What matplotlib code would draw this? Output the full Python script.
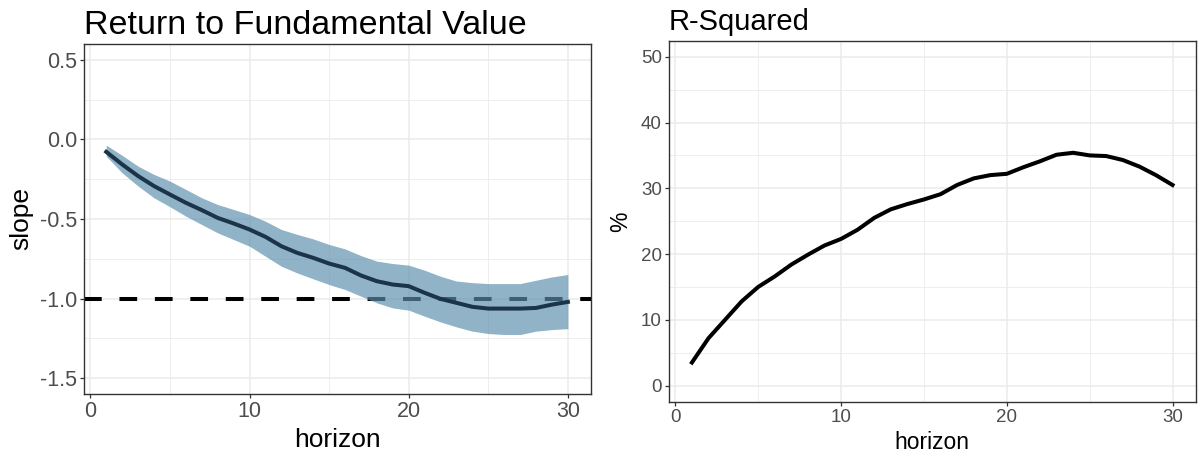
import numpy as np
import matplotlib.pyplot as plt
from matplotlib.ticker import MultipleLocator

plt.rcParams["font.family"] = ["Liberation Sans", "DejaVu Sans"]

# ==================================================
# Data
# ==================================================
horizon = list(range(1, 31))

slope = [-0.078, -0.157, -0.230, -0.293, -0.346, -0.398, -0.444, -0.493, -0.528, -0.566,
         -0.612, -0.671, -0.713, -0.744, -0.780, -0.807, -0.855, -0.891, -0.912, -0.922,
         -0.964, -1.002, -1.027, -1.052, -1.063, -1.063, -1.063, -1.059, -1.038, -1.021]

slope_upper = [-0.036, -0.100, -0.168, -0.220, -0.262, -0.314, -0.367, -0.409, -0.440, -0.472,
               -0.514, -0.566, -0.597, -0.625, -0.660, -0.688, -0.730, -0.765, -0.780, -0.790,
               -0.822, -0.860, -0.890, -0.900, -0.906, -0.906, -0.906, -0.885, -0.864, -0.849]

slope_lower = [-0.105, -0.210, -0.293, -0.367, -0.423, -0.482, -0.535, -0.587, -0.629, -0.671,
               -0.734, -0.797, -0.839, -0.876, -0.912, -0.943, -0.985, -1.027, -1.059, -1.073,
               -1.111, -1.147, -1.178, -1.205, -1.220, -1.226, -1.226, -1.205, -1.195, -1.189]

r_squared = [3.5, 7.2, 10.0, 12.8, 15.0, 16.6, 18.4, 19.9, 21.3, 22.3,
             23.7, 25.5, 26.8, 27.6, 28.3, 29.1, 30.5, 31.5, 32.0, 32.2,
             33.2, 34.1, 35.1, 35.4, 35.0, 34.9, 34.3, 33.3, 32.0, 30.5]

reference_slope = -1.0

GRID = "#EBEBEB"
BORDER = "#333333"
TICK_TXT = "#4D4D4D"


def style_axes(ax, tick_size):
    ax.set_facecolor("white")
    for sp in ax.spines.values():
        sp.set_color(BORDER)
        sp.set_linewidth(1.0)
    ax.grid(True, which="major", color=GRID, linewidth=1.1, zorder=0)
    ax.grid(True, which="minor", color=GRID, linewidth=0.6, zorder=0)
    ax.set_axisbelow(True)
    ax.tick_params(which="major", length=3, width=0.9, color=BORDER,
                   labelcolor=TICK_TXT, labelsize=tick_size, pad=2)
    ax.tick_params(which="minor", length=0)


fig = plt.figure(figsize=(11.98, 4.61), dpi=100)

# ==================================================
# Left panel
# ==================================================
ax1 = fig.add_axes([0.0701, 0.1453, 0.4232, 0.7593])
# dashed reference sits under the ribbon, as in the original
ax1.axhline(reference_slope, color="black", linewidth=2.9, dashes=(4.4, 4.4), zorder=2)
ax1.fill_between(horizon, slope_lower, slope_upper, color="#5D8FAD", alpha=0.68,
                 linewidth=0, zorder=3)
ax1.plot(horizon, slope, color="#1B3449", linewidth=2.9, zorder=4)

ax1.set_xlim(-0.4, 31.45)
ax1.set_ylim(-1.6, 0.6)
ax1.xaxis.set_major_locator(MultipleLocator(10))
ax1.xaxis.set_minor_locator(MultipleLocator(5))
ax1.yaxis.set_major_locator(MultipleLocator(0.5))
ax1.yaxis.set_minor_locator(MultipleLocator(0.25))
ax1.set_yticks([0.5, 0.0, -0.5, -1.0, -1.5])
ax1.set_yticklabels(["0.5", "0.0", "-0.5", "-1.0", "-1.5"])
style_axes(ax1, 15.5)
ax1.set_xlabel("horizon", fontsize=19, labelpad=4)
ax1.set_ylabel("slope", fontsize=19, labelpad=5)
ax1.set_title("Return to Fundamental Value", loc="left", fontsize=24.5, pad=7)

# ==================================================
# Right panel
# ==================================================
ax2 = fig.add_axes([0.5582, 0.1280, 0.4399, 0.7831])
ax2.plot(horizon, r_squared, color="black", linewidth=2.9, zorder=3)

ax2.set_xlim(-0.4, 31.4)
ax2.set_ylim(-2.5, 52.4)
ax2.xaxis.set_major_locator(MultipleLocator(10))
ax2.xaxis.set_minor_locator(MultipleLocator(5))
ax2.yaxis.set_major_locator(MultipleLocator(10))
ax2.yaxis.set_minor_locator(MultipleLocator(5))
style_axes(ax2, 13.5)
ax2.set_xlabel("horizon", fontsize=16.5, labelpad=4)
ax2.set_ylabel("%", fontsize=16.5, labelpad=6)
ax2.set_title("R-Squared", loc="left", fontsize=21, pad=8)

fig.savefig("out.png", dpi=100)
